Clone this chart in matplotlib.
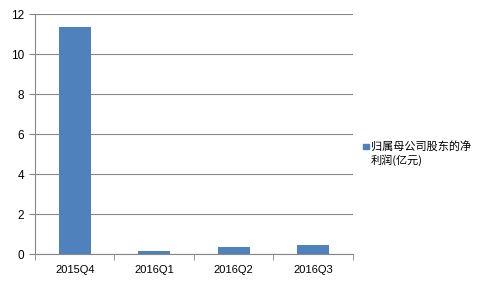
import matplotlib.pyplot as plt
from matplotlib.patches import Rectangle

quarters = ['2015Q4', '2016Q1', '2016Q2', '2016Q3']
profit = [11.35, 0.15, 0.35, 0.47]
series_name = '归属母公司股东的净\n利润(亿元)'

plt.rcParams['font.family'] = ['Liberation Sans', 'Noto Sans CJK SC', 'DejaVu Sans']

fig = plt.figure(figsize=(4.8, 2.88), dpi=100)
ax = fig.add_axes([0.073, 0.118, 0.662, 0.833])

x = range(len(quarters))
ax.bar(x, profit, width=0.4, color='#4F81BD', zorder=3)

ax.set_xlim(-0.5, len(quarters) - 0.5)
ax.set_ylim(0, 12)
ax.set_yticks(range(0, 13, 2))
ax.set_xticks(list(x))
ax.set_xticklabels(quarters)
ax.yaxis.grid(True, color='#868686', linewidth=0.8, zorder=0)

# category separator ticks like excel
ax.set_xticks([i - 0.5 for i in range(len(quarters) + 1)], minor=True)
ax.tick_params(axis='x', which='major', length=0, labelsize=8, pad=8)
ax.tick_params(axis='x', which='minor', length=4, color='#868686')
ax.tick_params(axis='y', length=4, color='#868686', labelsize=8.5, pad=4, direction='out')

for s in ['top', 'right']:
    ax.spines[s].set_visible(False)
for s in ['left', 'bottom']:
    ax.spines[s].set_color('#868686')

# legend, drawn by hand
fig.patches.append(Rectangle((0.757, 0.483), 0.011, 0.018, transform=fig.transFigure,
                             color='#4F81BD'))
fig.text(0.772, 0.512, series_name, fontsize=8, va='top', ha='left',
         family=['Noto Sans CJK SC', 'DejaVu Sans'], linespacing=1.3)

plt.savefig('out.png', dpi=100)
